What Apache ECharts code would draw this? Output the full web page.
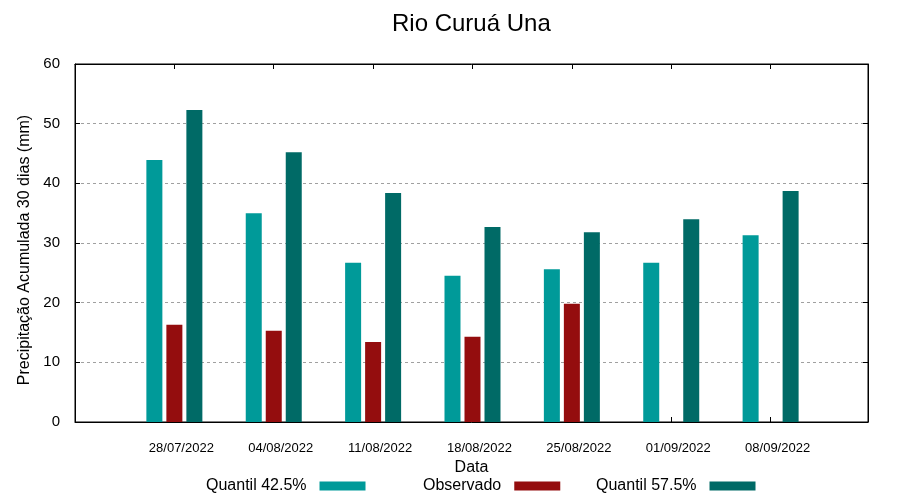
<!DOCTYPE html>
<html>
<head>
<meta charset="utf-8">
<script src="https://cdn.jsdelivr.net/npm/echarts@6/dist/echarts.min.js"></script>
<style>html,body{margin:0;padding:0;background:#fff}#c{width:900px;height:500px}</style>
</head>
<body>
<div id="c"></div>
<script>
const title = 'Rio Curuá Una';
const dates = ['28/07/2022','04/08/2022','11/08/2022','18/08/2022','25/08/2022','01/09/2022','08/09/2022'];
const q425 = [43.9, 35.0, 26.7, 24.5, 25.6, 26.7, 31.3];
const observado = [16.3, 15.3, 13.4, 14.3, 19.8, null, null];
const q575 = [52.3, 45.2, 38.4, 32.7, 31.8, 34.0, 38.7];
const yTicks = [0, 10, 20, 30, 40, 50, 60];

const font = '"Liberation Sans", Arial, sans-serif';
const pairs = arr => arr.map((v, i) => [i, v]).filter(p => p[1] !== null);

const chart = echarts.init(document.getElementById('c'), null, {renderer: 'canvas'});
const tickStyle = {show: true, inside: true, length: 5, lineStyle: {color: '#000', width: 1}};
const lineStyle = {show: true, onZero: false, lineStyle: {color: '#000', width: 1}};
const legendBase = {
  orient: 'horizontal', top: 478, align: 'right', padding: 0,
  itemWidth: 46, itemHeight: 9, icon: 'rect',
  textStyle: {fontFamily: font, fontSize: 16, color: '#000', padding: [0, 8, 0, 0]}
};
chart.setOption({
  backgroundColor: '#fff',
  animation: false,
  title: {text: title, left: 392, top: 12, padding: 0,
    textStyle: {fontFamily: font, fontSize: 24, fontWeight: 'normal', color: '#000'}},
  grid: {left: 75, right: 32, top: 64, bottom: 78, show: true, borderColor: '#000', borderWidth: 1, backgroundColor: 'transparent'},
  legend: [
    Object.assign({}, legendBase, {left: 206, data: ['Quantil 42.5%']}),
    Object.assign({}, legendBase, {left: 423, data: ['Observado']}),
    Object.assign({}, legendBase, {left: 596, data: ['Quantil 57.5%']})
  ],
  xAxis: [{
    type: 'value', min: -1, max: 6.98, interval: 1, position: 'bottom',
    name: 'Data', nameLocation: 'middle', nameGap: 37,
    nameTextStyle: {fontFamily: font, fontSize: 16, color: '#000'},
    axisLine: lineStyle,
    axisTick: tickStyle,
    splitLine: {show: false},
    axisLabel: {
      fontFamily: font, fontSize: 13, color: '#000', margin: 20, padding: [0, 0, 0, 14],
      showMinLabel: false, showMaxLabel: false,
      formatter: v => (Number.isInteger(v) && v >= 0 && v < dates.length) ? dates[v] : ''
    }
  }, {
    type: 'value', min: -1, max: 6.98, interval: 1, position: 'top',
    axisLine: lineStyle,
    axisTick: tickStyle, axisLabel: {show: false}, splitLine: {show: false}
  }],
  yAxis: [{
    type: 'value', min: yTicks[0], max: yTicks[yTicks.length - 1], interval: 10, position: 'left',
    name: 'Precipitação Acumulada 30 dias (mm)', nameLocation: 'middle', nameGap: 41,
    nameTextStyle: {fontFamily: font, fontSize: 16, color: '#000', padding: [0, 14, 0, 0]},
    axisLine: lineStyle,
    axisTick: tickStyle,
    axisLabel: {fontFamily: font, fontSize: 15, color: '#000', margin: 15},
    splitLine: {show: true, lineStyle: {color: '#a0a0a0', width: 1, type: [3, 3]}}
  }, {
    type: 'value', min: yTicks[0], max: yTicks[yTicks.length - 1], interval: 10, position: 'right',
    axisLine: lineStyle,
    axisTick: tickStyle, axisLabel: {show: false}, splitLine: {show: false}
  }],
  series: [
    {name: 'Quantil 42.5%', type: 'bar', data: pairs(q425), barWidth: 16, barGap: '25%',
      itemStyle: {color: '#009a99'}},
    {name: 'Observado', type: 'bar', data: pairs(observado), barWidth: 16, barGap: '25%',
      itemStyle: {color: '#940d0e'}},
    {name: 'Quantil 57.5%', type: 'bar', data: pairs(q575), barWidth: 16, barGap: '25%',
      itemStyle: {color: '#006a66'}}
  ]
});
</script>
</body>
</html>
